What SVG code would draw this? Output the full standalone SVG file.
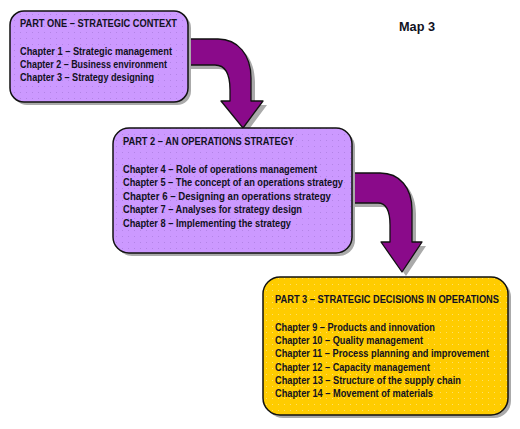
<svg xmlns="http://www.w3.org/2000/svg" width="520" height="429" viewBox="0 0 520 429">
<style>
  text { font-family: "Liberation Sans", Arial, sans-serif; font-size: 11px; font-weight: bold; fill: #111122; }
  .title { font-size: 13px; }
  .box { stroke: #111; stroke-width: 1.5; }
  .shadow { fill: #aaaaaa; }
  .arrow { fill: #8a0a8a; stroke: #111; stroke-width: 1.3; stroke-linejoin: round; }
</style>
<defs>
  <pattern id="dotsP" width="6" height="6" patternUnits="userSpaceOnUse">
    <rect width="6" height="6" fill="#cc99ff"/>
    <rect x="2" y="2" width="1" height="1" fill="#b384e6"/>
  </pattern>
  <pattern id="dotsY" width="6" height="6" patternUnits="userSpaceOnUse">
    <rect width="6" height="6" fill="#ffcc00"/>
    <rect x="2" y="2" width="1" height="1" fill="#ffe066"/>
  </pattern>
  <path id="arrow1" d="M180 39 L218 39 C238 39 251 55 251 78 L251 101 L263 101 L243 128 L221 101 L230 101 L230 90 C230 73 225 65 215 65 L180 65 Z"/>
  <path id="arrow2" d="M345 173 L380 173 C400 173 412 188 412 210 L412 242 L422 242 L402 272 L381 242 L390 242 L390 225 C390 210 386 203 378 203 L345 203 Z"/>
</defs>

<g id="connectors">
  <use href="#arrow1" class="shadow" transform="translate(4,4)"/>
  <use href="#arrow1" class="arrow"/>
  <use href="#arrow2" class="shadow" transform="translate(4,4)"/>
  <use href="#arrow2" class="arrow"/>
</g>

<g id="part1">
  <rect x="13" y="14" width="178" height="91" rx="14" class="shadow"/>
  <rect x="10" y="11" width="178" height="91" rx="14" fill="url(#dotsP)" class="box"/>
  <g transform="translate(20,0) scale(0.85,1)">
    <text x="0" y="27" textLength="184.7" lengthAdjust="spacingAndGlyphs">PART ONE – STRATEGIC CONTEXT</text>
    <text x="0" y="55" textLength="178.8" lengthAdjust="spacingAndGlyphs">Chapter 1 – Strategic management</text>
    <text x="0" y="68" textLength="172.9" lengthAdjust="spacingAndGlyphs">Chapter 2 – Business environment</text>
    <text x="0" y="81" textLength="157.6" lengthAdjust="spacingAndGlyphs">Chapter 3 – Strategy designing</text>
  </g>
</g>

<g id="part2">
  <rect x="116" y="131" width="239" height="125" rx="16" class="shadow"/>
  <rect x="113" y="128" width="239" height="125" rx="16" fill="url(#dotsP)" class="box"/>
  <g transform="translate(123,0) scale(0.85,1)">
    <text x="0" y="145" textLength="201.2" lengthAdjust="spacingAndGlyphs">PART 2 – AN OPERATIONS STRATEGY</text>
    <text x="0" y="173" textLength="228.2" lengthAdjust="spacingAndGlyphs">Chapter 4 – Role of operations management</text>
    <text x="0" y="186" textLength="258.8" lengthAdjust="spacingAndGlyphs">Chapter 5 – The concept of an operations strategy</text>
    <text x="0" y="200" textLength="244.7" lengthAdjust="spacingAndGlyphs">Chapter 6 – Designing an operations strategy</text>
    <text x="0" y="213" textLength="210.6" lengthAdjust="spacingAndGlyphs">Chapter 7 – Analyses for strategy design</text>
    <text x="0" y="227" textLength="197.6" lengthAdjust="spacingAndGlyphs">Chapter 8 – Implementing the strategy</text>
  </g>
</g>

<g id="part3">
  <rect x="266" y="280" width="245" height="138" rx="17" class="shadow"/>
  <rect x="263" y="277" width="245" height="138" rx="17" fill="url(#dotsY)" class="box"/>
  <g transform="translate(275,0) scale(0.85,1)">
    <text x="0" y="303" textLength="263.5" lengthAdjust="spacingAndGlyphs">PART 3 – STRATEGIC DECISIONS IN OPERATIONS</text>
    <text x="0" y="331" textLength="188.2" lengthAdjust="spacingAndGlyphs">Chapter 9 – Products and innovation</text>
    <text x="0" y="344" textLength="174.1" lengthAdjust="spacingAndGlyphs">Chapter 10 – Quality management</text>
    <text x="0" y="357" textLength="251.8" lengthAdjust="spacingAndGlyphs">Chapter 11 – Process planning and improvement</text>
    <text x="0" y="371" textLength="182.4" lengthAdjust="spacingAndGlyphs">Chapter 12 – Capacity management</text>
    <text x="0" y="384" textLength="218.8" lengthAdjust="spacingAndGlyphs">Chapter 13 – Structure of the supply chain</text>
    <text x="0" y="397" textLength="185.9" lengthAdjust="spacingAndGlyphs">Chapter 14 – Movement of materials</text>
  </g>
</g>

<g id="map-label">
  <text x="399" y="31" class="title" textLength="36" lengthAdjust="spacingAndGlyphs">Map 3</text>
</g>
</svg>
